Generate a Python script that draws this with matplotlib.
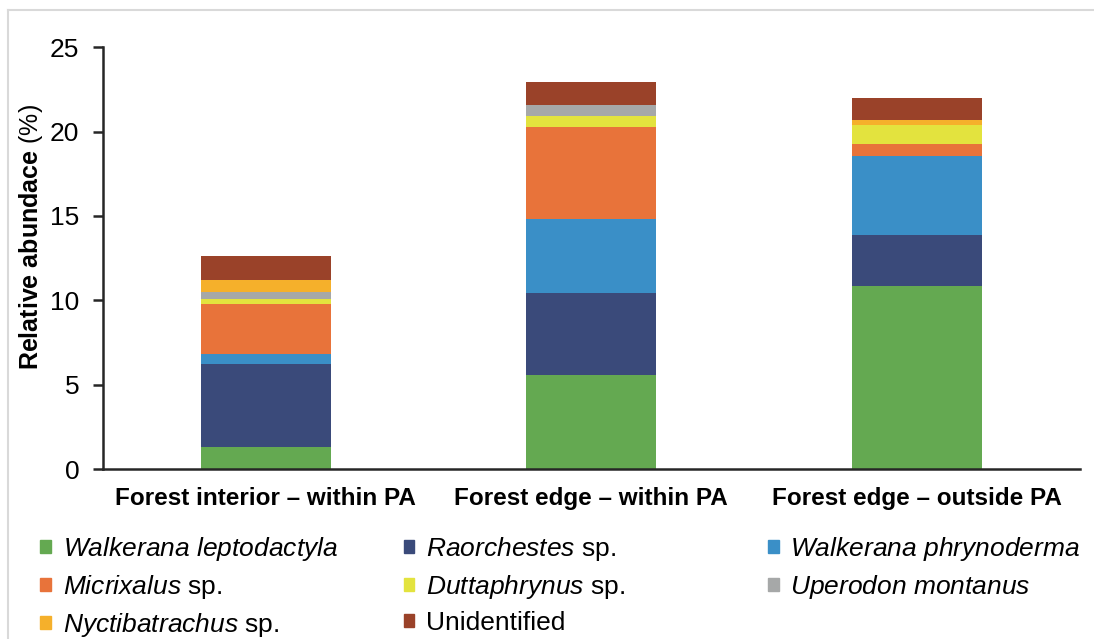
import numpy as np
import matplotlib.pyplot as plt
from matplotlib.lines import Line2D
from matplotlib.patches import Patch

plt.rcParams['font.family'] = ['Liberation Sans', 'DejaVu Sans']
plt.rcParams['mathtext.fontset'] = 'custom'
plt.rcParams['mathtext.rm'] = 'Liberation Sans'
plt.rcParams['mathtext.it'] = 'Liberation Sans:italic'
plt.rcParams['mathtext.bf'] = 'Liberation Sans:bold'

sites = ['Forest interior \u2013 within PA', 'Forest edge \u2013 within PA',
         'Forest edge \u2013 outside PA']
species = [r'$\it{Walkerana\ leptodactyla}$', r'$\it{Raorchestes}$ sp.',
           r'$\it{Walkerana\ phrynoderma}$', r'$\it{Micrixalus}$ sp.',
           r'$\it{Duttaphrynus}$ sp.', r'$\it{Uperodon\ montanus}$',
           r'$\it{Nyctibatrachus}$ sp.', 'Unidentified']
colors = ['#64a951', '#3a4a7a', '#3a8fc7', '#e8733a',
          '#e3e33e', '#a6a8a8', '#f5b02b', '#9a4229']

# relative abundance (%) per species, one value per site
w_leptodactyla = [1.3, 5.55, 10.85]
raorchestes = [4.9, 4.9, 3.0]
w_phrynoderma = [0.6, 4.4, 4.7]
micrixalus = [3.0, 5.4, 0.7]
duttaphrynus = [0.3, 0.7, 1.15]
u_montanus = [0.4, 0.6, 0.0]
nyctibatrachus = [0.7, 0.0, 0.3]
unidentified = [1.4, 1.4, 1.3]

values = [w_leptodactyla, raorchestes, w_phrynoderma, micrixalus,
          duttaphrynus, u_montanus, nyctibatrachus, unidentified]

fig = plt.figure(figsize=(10.94, 6.39), dpi=100)
ax = fig.add_axes([0.094, 0.266, 0.893, 0.66])

x = np.arange(len(sites))
bottom = np.zeros(len(sites))
for name, vals, c in zip(species, values, colors):
    ax.bar(x, vals, 0.4, bottom=bottom, color=c, label=name)
    bottom += np.array(vals)

ax.set_xlim(-0.5, 2.5)
ax.set_ylim(0, 25)
ax.set_yticks([0, 5, 10, 15, 20, 25])
ax.set_xticks(x)
ax.set_xticklabels(sites, fontsize=17.5, fontweight='bold')
ax.tick_params(axis='x', length=0, pad=13)
ax.tick_params(axis='y', labelsize=19, length=7, width=1.8, color='#262626', pad=10)
for s in ['top', 'right']:
    ax.spines[s].set_visible(False)
for s in ['left', 'bottom']:
    ax.spines[s].set_linewidth(1.8)
    ax.spines[s].set_color('#262626')
ax.set_ylabel(r'$\bf{Relative\ abundace}$ (%)', fontsize=18)
ax.yaxis.set_label_coords(-0.059, 0.55)

# legend: three fixed columns, filled row-wise like the original
columns = [[0, 3, 6], [1, 4, 7], [2, 5]]
col_x = [0.037, 0.369, 0.702]
for idx, cx in zip(columns, col_x):
    fig.legend([Patch(color=colors[i]) for i in idx], [species[i] for i in idx],
               loc='upper left', bbox_to_anchor=(cx, 0.163), frameon=False,
               fontsize=19, handlelength=0.4, handleheight=0.4,
               handletextpad=0.45, labelspacing=0.38, borderpad=0,
               borderaxespad=0)

# light frame around the picture
fig.add_artist(Line2D([0.007, 0.007], [0, 0.984], color='#d9d9d9', lw=1.5))
fig.add_artist(Line2D([0.007, 1], [0.984, 0.984], color='#d9d9d9', lw=1.5))

fig.savefig('out.png', dpi=100)
